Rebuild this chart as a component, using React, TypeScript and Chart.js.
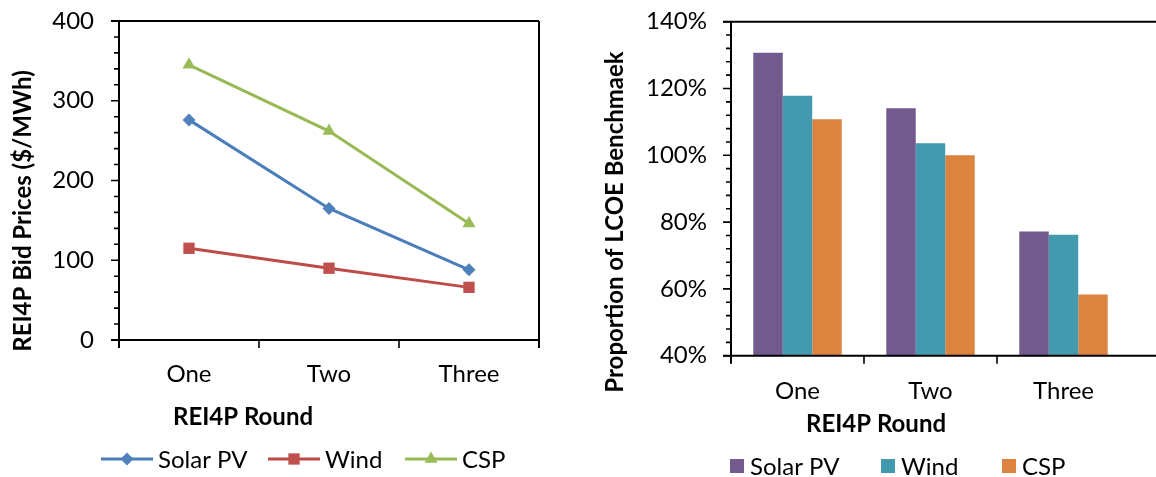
import React, { useEffect, useRef } from "react";
import { Chart, registerables } from "chart.js";
Chart.register(...registerables);

const rounds = ["One", "Two", "Three"];
const solarPrice = [276, 165, 88];
const windPrice = [115, 90, 66];
const cspPrice = [345, 262, 146];
const solarRatio = [130.7, 114.1, 77.2];
const windRatio = [117.8, 103.6, 76.2];
const cspRatio = [110.8, 100.0, 58.3];
const seriesNames = ["Solar PV", "Wind", "CSP"];

const FONT = "Lato, 'Noto Sans', sans-serif";
const FS = 24;
const lineColors = ["#4A7EBB", "#BE4B48", "#98B954"];
const markerColors = ["#4F81BD", "#C0504D", "#9BBB59"];
const markerStyles = ["rectRot", "rect", "triangle"];
const markerRadius = [6.5, 8, 7.5];
const barColors = ["#735A8E", "#4399AE", "#DC8340"];

function drawMarker(ctx: CanvasRenderingContext2D, style: string, x: number, y: number, r: number) {
  ctx.beginPath();
  if (style === "rectRot") {
    ctx.moveTo(x, y - r); ctx.lineTo(x + r, y); ctx.lineTo(x, y + r); ctx.lineTo(x - r, y);
  } else if (style === "rect") {
    const s = r * Math.SQRT1_2;
    ctx.rect(x - s, y - s, 2 * s, 2 * s);
  } else {
    ctx.moveTo(x, y - r); ctx.lineTo(x + r * 0.866, y + r * 0.5); ctx.lineTo(x - r * 0.866, y + r * 0.5);
  }
  ctx.closePath();
  ctx.fill();
}

const framePlugin = {
  id: "frame",
  afterDraw(chart: any, _args: any, opts: any) {
    const { ctx, chartArea: a } = chart;
    const y = chart.scales.y;
    ctx.save();
    ctx.strokeStyle = "#000";
    ctx.lineWidth = 2;
    const ext = opts.extendRight ? chart.width : a.right;
    ctx.beginPath();
    ctx.moveTo(a.left - 8, a.top); ctx.lineTo(ext, a.top);
    ctx.moveTo(a.left - 8, a.bottom); ctx.lineTo(ext, a.bottom);
    ctx.moveTo(a.left, a.top); ctx.lineTo(a.left, a.bottom + 8);
    if (!opts.extendRight) { ctx.moveTo(a.right, a.top); ctx.lineTo(a.right, a.bottom + 8); }
    ctx.stroke();
    ctx.lineWidth = 1.6;
    ctx.beginPath();
    const steps = Math.round((y.max - y.min) / opts.minor);
    for (let i = 0; i <= steps; i++) {
      const v = y.min + i * opts.minor;
      const py = y.getPixelForValue(v);
      const isMajor = i % opts.ratio === 0;
      const len = isMajor ? 8 : 5;
      ctx.moveTo(a.left - len, py); ctx.lineTo(a.left, py);
    }
    const n = chart.data.labels.length;
    const w = (a.right - a.left) / n;
    for (let i = 1; i < n; i++) {
      const x = a.left + i * w;
      ctx.moveTo(x, a.bottom); ctx.lineTo(x, a.bottom + 8);
    }
    ctx.stroke();

    ctx.fillStyle = "#000";
    ctx.font = `bold ${FS}px ${FONT}`;
    ctx.textAlign = "center";
    ctx.textBaseline = "middle";
    ctx.fillText(opts.xTitle.text, opts.xTitle.x, opts.xTitle.y);
    ctx.save();
    ctx.translate(opts.yTitle.x, opts.yTitle.y);
    ctx.rotate(-Math.PI / 2);
    ctx.fillText(opts.yTitle.text, 0, 0);
    ctx.restore();

    ctx.font = `${FS}px ${FONT}`;
    ctx.textAlign = "left";
    opts.legend.forEach((it: any, i: number) => {
      const ly = opts.legendY;
      if (opts.legendType === "line") {
        ctx.strokeStyle = lineColors[i];
        ctx.lineWidth = 3;
        ctx.beginPath();
        ctx.moveTo(it.x, ly); ctx.lineTo(it.x + 52, ly);
        ctx.stroke();
        ctx.fillStyle = markerColors[i];
        drawMarker(ctx, markerStyles[i], it.x + 26, ly, markerRadius[i]);
        ctx.fillStyle = "#000";
        ctx.fillText(seriesNames[i], it.x + 57, ly + 1);
      } else {
        ctx.fillStyle = barColors[i];
        ctx.fillRect(it.x, ly - 7, 14, 14);
        ctx.fillStyle = "#000";
        ctx.fillText(seriesNames[i], it.x + 20, ly + 1);
      }
    });
    ctx.restore();
  },
};

const fitX = (h: number) => (s: any) => { s.height = h; s.paddingLeft = 0; s.paddingRight = 0; s.paddingTop = 0; s.paddingBottom = 0; };
const fitY = (w: number) => (s: any) => { s.width = w; s.paddingLeft = 0; s.paddingRight = 0; s.paddingTop = 0; s.paddingBottom = 0; };

function LeftChart() {
  const ref = useRef<HTMLCanvasElement>(null);
  useEffect(() => {
    const chart = new Chart(ref.current!, {
      type: "line",
      data: {
        labels: rounds,
        datasets: [solarPrice, windPrice, cspPrice].map((d, i) => ({
          label: seriesNames[i],
          data: d,
          borderColor: lineColors[i],
          backgroundColor: markerColors[i],
          pointBackgroundColor: markerColors[i],
          pointBorderColor: markerColors[i],
          pointBorderWidth: 0,
          borderWidth: 3,
          pointStyle: markerStyles[i] as any,
          pointRadius: markerRadius[i],
          tension: 0,
        })),
      },
      options: {
        responsive: false,
        animation: false,
        layout: { padding: { left: 0, top: 21, right: 21, bottom: 0 } },
        plugins: {
          legend: { display: false },
          tooltip: { enabled: false },
          frame: {
            minor: 20, ratio: 5,
            xTitle: { text: "REI4P Round", x: 243, y: 417 },
            yTitle: { text: "REI4P Bid Prices ($/MWh)", x: 23, y: 211 },
            legendType: "line",
            legendY: 459,
            legend: [{ x: 101 }, { x: 268 }, { x: 405 }],
          },
        } as any,
        scales: {
          x: {
            offset: true,
            grid: { display: false, drawTicks: false },
            border: { display: false },
            ticks: { font: { family: FONT, size: FS }, color: "#000", padding: 20 },
            afterFit: fitX(137),
          },
          y: {
            min: 0, max: 400,
            grid: { display: false, drawTicks: false },
            border: { display: false },
            ticks: { stepSize: 100, font: { family: FONT, size: FS }, color: "#000", padding: 25 },
            afterFit: fitY(119),
          },
        },
      },
      plugins: [framePlugin],
    });
    return () => chart.destroy();
  }, []);
  return <canvas ref={ref} width={560} height={477} style={{ position: "absolute", left: 0, top: 0, width: 560, height: 477 }} />;
}

function RightChart() {
  const ref = useRef<HTMLCanvasElement>(null);
  useEffect(() => {
    const chart = new Chart(ref.current!, {
      type: "bar",
      data: {
        labels: rounds,
        datasets: [solarRatio, windRatio, cspRatio].map((d, i) => ({
          label: seriesNames[i],
          data: d,
          backgroundColor: barColors[i],
          borderWidth: 0,
          categoryPercentage: 0.665,
          barPercentage: 1,
        })),
      },
      options: {
        responsive: false,
        animation: false,
        layout: { padding: { left: 0, top: 21.7, right: 26, bottom: 0 } },
        plugins: {
          legend: { display: false },
          tooltip: { enabled: false },
          frame: {
            minor: 4, ratio: 5, extendRight: true,
            xTitle: { text: "REI4P Round", x: 296, y: 424 },
            yTitle: { text: "Proportion of LCOE Benchmaek", x: 35, y: 222 },
            legendType: "box",
            legendY: 466,
            legend: [{ x: 150 }, { x: 301 }, { x: 422 }],
          },
        } as any,
        scales: {
          x: {
            grid: { display: false, drawTicks: false },
            border: { display: false },
            ticks: { font: { family: FONT, size: FS }, color: "#000", padding: 21 },
            afterFit: fitX(121.3),
          },
          y: {
            min: 40, max: 140,
            grid: { display: false, drawTicks: false },
            border: { display: false },
            ticks: { stepSize: 20, font: { family: FONT, size: FS }, color: "#000", padding: 24, callback: (v: any) => `${v}%` },
            afterFit: fitY(151),
          },
        },
      },
      plugins: [framePlugin],
    });
    return () => chart.destroy();
  }, []);
  return <canvas ref={ref} width={576} height={477} style={{ position: "absolute", left: 580, top: 0, width: 576, height: 477 }} />;
}

export default function App() {
  return (
    <div style={{ position: "absolute", left: 0, top: 0, width: 1156, height: 477, overflow: "hidden", background: "#fff" }}>
      <LeftChart />
      <RightChart />
    </div>
  );
}
